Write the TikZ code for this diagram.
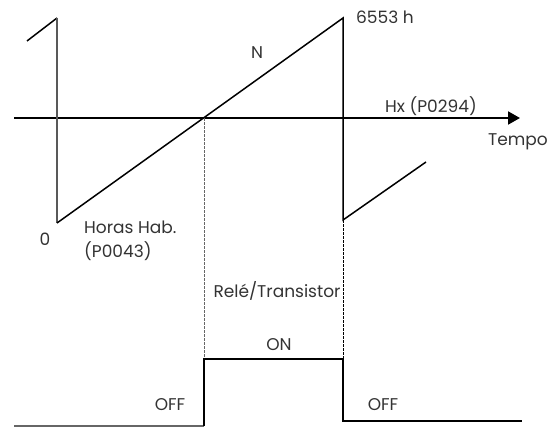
\documentclass[tikz,border=0pt]{standalone}
\usepackage{fontspec}
\setmainfont{Poppins}
\usetikzlibrary{arrows.meta}
\begin{document}
\begin{tikzpicture}[x=1pt,y=-1pt,
  wave/.style={line width=1.5pt,black},
  wavegray/.style={line width=1.5pt,black!65},
  pulse/.style={line width=2.2pt,black},
  guide/.style={dashed,dash pattern=on 2.5pt off 1.5pt,line width=0.8pt},
  lbl/.style={inner sep=0pt,text=black!80,font=\fontsize{17}{24}\selectfont}]
\useasboundingbox (0,0) rectangle (554,428);
% coordinates
\coordinate (tl0) at (27,41);
\coordinate (tl1) at (57,18);
\coordinate (lb) at (57,223);
\coordinate (rt) at (343,18);
\coordinate (rb) at (343,220);
\coordinate (re) at (426,162);
\coordinate (cross) at (204,118);
\coordinate (axs) at (14,118);
\coordinate (axe) at (520,118);
\coordinate (p0) at (14,426);
\coordinate (p1) at (204,426);
\coordinate (p2) at (204,359);
\coordinate (p3) at (343,359);
\coordinate (p4) at (343,421);
\coordinate (p5) at (522,421);
% axis
\draw[line width=2pt,-{Triangle[length=12pt,width=13pt]}] (axs) -- (axe);
% sawtooth
\draw[wave] (tl0) -- (tl1);
\draw[wavegray] (tl1) -- (lb);
\draw[wave] (lb) -- (rt) -- (rb) -- (re);
% guides
\draw[guide,black!60] (cross) -- (p2);
\draw[guide,black] (rb) -- (p3);
% pulse
\draw[line width=1.5pt,black!60] (p0) -- (p1);
\draw[pulse] (p1) -- (p2) -- (p3) -- (p4) -- (p5);
% labels
\node[lbl] (n) at (257,53) {N};
\node[lbl,anchor=west] (top) at (356,17) {6553 h};
\node[lbl,anchor=west] (hx) at (385,106) {Hx (P0294)};
\node[lbl,anchor=west] (tempo) at (488,142) {Tempo};
\node[lbl] (zero) at (45,239) {0};
\node[lbl,anchor=west,align=left] (horas) at (84,241) {Horas Hab.\\(P0043)};
\node[lbl] (rele) at (277,291) {Relé/Transistor};
\node[lbl] (on) at (279,345) {ON};
\node[lbl] (off1) at (170,405) {OFF};
\node[lbl] (off2) at (383,405) {OFF};
\end{tikzpicture}
\end{document}
